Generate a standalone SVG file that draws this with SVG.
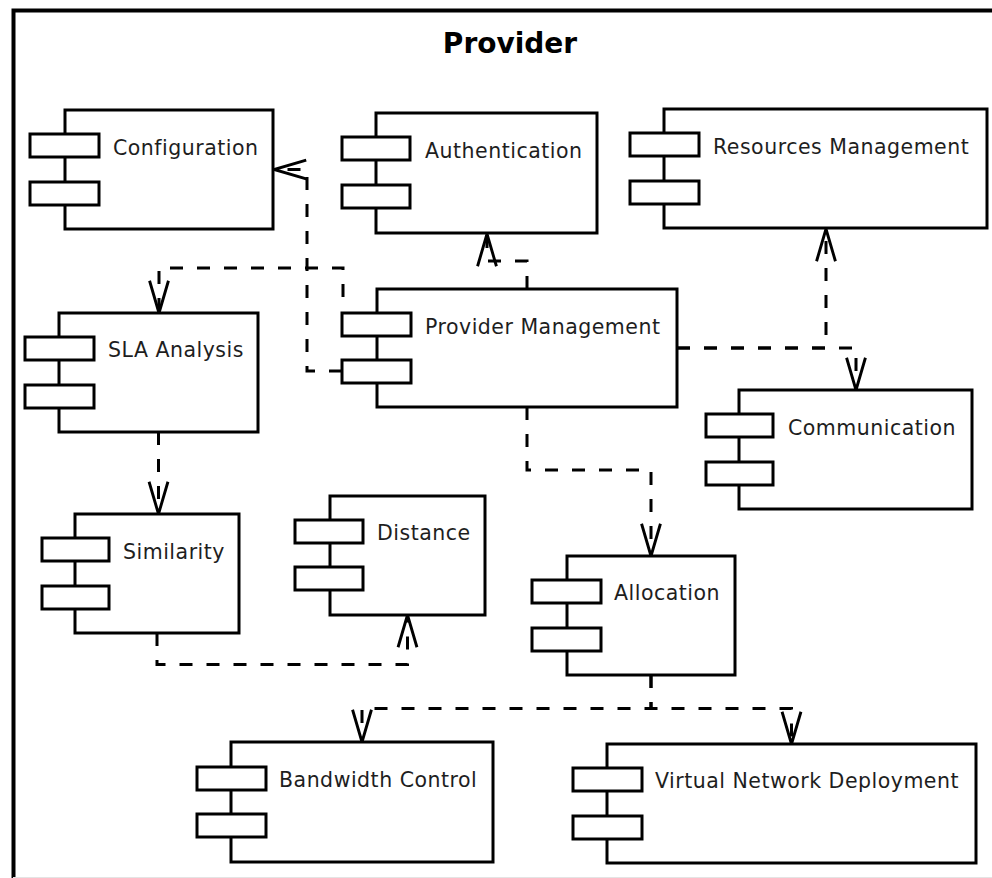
<svg xmlns="http://www.w3.org/2000/svg" width="992" height="878" viewBox="0 0 992 878">
<defs>
<style>
.box{fill:#fff;stroke:#000;stroke-width:3}
.port{fill:#fff;stroke:#000;stroke-width:3}
.lbl{font-family:"DejaVu Sans",sans-serif;font-size:20.5px;letter-spacing:0.5px;fill:#1e1e1e}
.title{font-family:"DejaVu Sans",sans-serif;font-size:28px;font-weight:bold;fill:#000}
.dep{fill:none;stroke:#000;stroke-width:3;stroke-dasharray:13 14;marker-end:url(#arr)}
</style>
<marker id="arr" markerUnits="userSpaceOnUse" markerWidth="40" markerHeight="30" viewBox="-32 -12 36 24" refX="0" refY="0" orient="auto" overflow="visible">
<path d="M-29,-8.5 L0,0 L-29,8.5" fill="none" stroke="#000" stroke-width="2.6" stroke-dasharray="none"/>
</marker>
</defs>
<rect x="0" y="0" width="992" height="878" fill="#fff"/>
<rect x="13.5" y="10.5" width="1000" height="900" fill="none" stroke="#000" stroke-width="4"/>
<line x1="13" y1="877.5" x2="992" y2="877.5" stroke="#e4e4e4" stroke-width="1"/>
<text class="title" x="510" y="53" text-anchor="middle">Provider</text>

<g id="connectors">
<path class="dep" d="M342,371 H307 V169.5 H274"/>
<path class="dep" d="M343,311 V268 H159 V313" stroke-dashoffset="13"/>
<path class="dep" d="M527,289 V261 H487 V234"/>
<path class="dep" d="M677,348 H826 V229"/>
<path class="dep" d="M677,348 H856 V390"/>
<path class="dep" d="M527,407 V470 H651 V556"/>
<path class="dep" d="M158.5,432 V514"/>
<path class="dep" d="M157,633 V664.5 H407.5 V615"/>
<path class="dep" d="M651,675 V708.5 H362 V742"/>
<path class="dep" d="M651,675 V708.5 H791.5 V744"/>
</g>

<g id="configuration">
<rect class="box" x="65" y="110" width="208" height="119"/>
<rect class="port" x="30" y="134" width="69" height="23"/>
<rect class="port" x="30" y="182" width="69" height="23"/>
<text class="lbl" x="113" y="154.5">Configuration</text>
</g>
<g id="authentication">
<rect class="box" x="376" y="113" width="221" height="120"/>
<rect class="port" x="342" y="137" width="68" height="23"/>
<rect class="port" x="342" y="185" width="68" height="23"/>
<text class="lbl" x="425" y="157.5">Authentication</text>
</g>
<g id="resources-management">
<rect class="box" x="664" y="109" width="323" height="119"/>
<rect class="port" x="630" y="133" width="69" height="23"/>
<rect class="port" x="630" y="181" width="69" height="23"/>
<text class="lbl" x="713" y="153.5">Resources Management</text>
</g>
<g id="sla-analysis">
<rect class="box" x="59" y="313" width="199" height="119"/>
<rect class="port" x="25" y="337" width="69" height="23"/>
<rect class="port" x="25" y="385" width="69" height="23"/>
<text class="lbl" x="108" y="357">SLA Analysis</text>
</g>
<g id="provider-management">
<rect class="box" x="377" y="289" width="300" height="118"/>
<rect class="port" x="342" y="313" width="69" height="23"/>
<rect class="port" x="342" y="360" width="69" height="23"/>
<text class="lbl" x="425" y="333.5">Provider Management</text>
</g>
<g id="communication">
<rect class="box" x="739" y="390" width="233" height="119"/>
<rect class="port" x="706" y="414" width="67" height="23"/>
<rect class="port" x="706" y="462" width="67" height="23"/>
<text class="lbl" x="788" y="435">Communication</text>
</g>
<g id="similarity">
<rect class="box" x="75" y="514" width="164" height="119"/>
<rect class="port" x="42" y="538" width="67" height="23"/>
<rect class="port" x="42" y="586" width="67" height="23"/>
<text class="lbl" x="123" y="559">Similarity</text>
</g>
<g id="distance">
<rect class="box" x="330" y="496" width="155" height="119"/>
<rect class="port" x="295" y="520" width="68" height="23"/>
<rect class="port" x="295" y="567" width="68" height="23"/>
<text class="lbl" x="377" y="540">Distance</text>
</g>
<g id="allocation">
<rect class="box" x="567" y="556" width="168" height="119"/>
<rect class="port" x="532" y="580" width="69" height="23"/>
<rect class="port" x="532" y="628" width="69" height="23"/>
<text class="lbl" x="614" y="599.5">Allocation</text>
</g>
<g id="bandwidth-control">
<rect class="box" x="231" y="742" width="262" height="120"/>
<rect class="port" x="197" y="767" width="69" height="23"/>
<rect class="port" x="197" y="814" width="69" height="23"/>
<text class="lbl" x="279" y="786.5">Bandwidth Control</text>
</g>
<g id="virtual-network-deployment">
<rect class="box" x="607" y="744" width="369" height="119"/>
<rect class="port" x="573" y="768" width="69" height="23"/>
<rect class="port" x="573" y="816" width="69" height="23"/>
<text class="lbl" x="655" y="788">Virtual Network Deployment</text>
</g>
</svg>
